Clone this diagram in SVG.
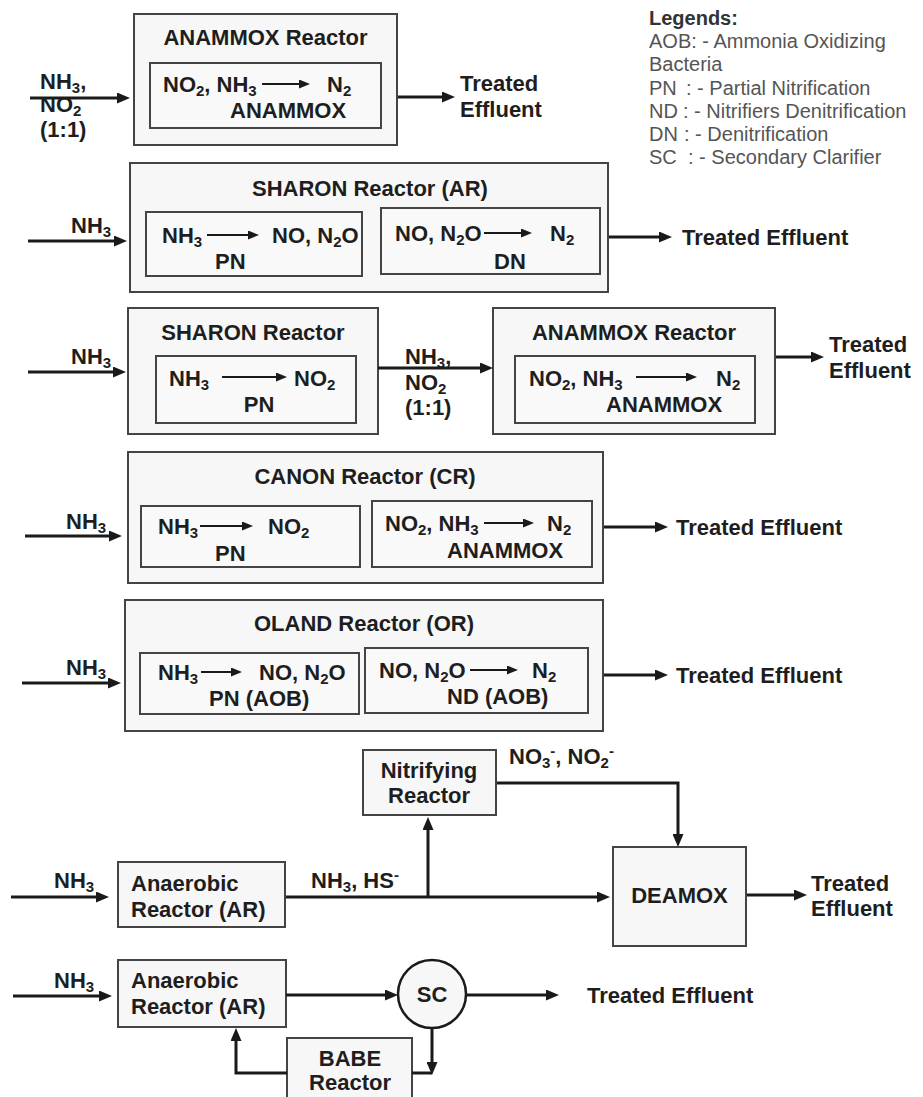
<svg xmlns="http://www.w3.org/2000/svg" width="923" height="1097" viewBox="0 0 923 1097">
<defs>
<style>
.t{font-family:"Liberation Sans",Arial,sans-serif;font-weight:bold;font-size:22px;fill:#1e1e1e}
.s{font-size:15px}
.m{text-anchor:middle}
.lg{font-family:"Liberation Sans",Arial,sans-serif;font-size:20px;fill:#555}
.lgh{font-weight:bold;fill:#333}
.ob{fill:#f7f7f7;stroke:#444;stroke-width:2}
.ib{fill:#f9f9f9;stroke:#444;stroke-width:2}
.c{fill:none;stroke:#1a1a1a;stroke-width:3}
.ia{fill:none;stroke:#1a1a1a;stroke-width:2.2}
</style>
<marker id="ah" markerWidth="13" markerHeight="11" refX="5" refY="5.5" orient="auto" markerUnits="userSpaceOnUse"><path d="M0,0 L13,5.5 L0,11 z" fill="#1a1a1a"/></marker>
<marker id="sa" markerWidth="11" markerHeight="9" refX="4" refY="4.5" orient="auto" markerUnits="userSpaceOnUse"><path d="M0,0 L11,4.5 L0,9 z" fill="#1a1a1a"/></marker>
</defs>
<rect width="923" height="1097" fill="#ffffff"/>

<g id="legend" class="lg">
<text x="649" y="25" class="lgh">Legends:</text>
<text x="649" y="48">AOB: - Ammonia Oxidizing</text>
<text x="649" y="71">Bacteria</text>
<text y="95"><tspan x="649">PN</tspan><tspan x="686">: - Partial Nitrification</tspan></text>
<text y="118"><tspan x="649">ND</tspan><tspan x="683">: - Nitrifiers Denitrification</tspan></text>
<text y="141"><tspan x="649">DN</tspan><tspan x="684">: - Denitrification</tspan></text>
<text y="164"><tspan x="649">SC</tspan><tspan x="688">: - Secondary Clarifier</tspan></text>
</g>

<!-- Row 1 -->
<g id="anammox1">
<rect class="ob" x="134" y="14" width="263" height="131"/>
<text class="t m" x="265.5" y="45">ANAMMOX Reactor</text>
<rect class="ib" x="150" y="63" width="231" height="65"/>
<text class="t" x="163" y="92">NO<tspan class="s" dy="4">2</tspan><tspan dy="-4">, NH</tspan><tspan class="s" dy="4">3</tspan></text>
<path class="ia" d="M262,84 H303" marker-end="url(#sa)"/>
<text class="t" x="327" y="92">N<tspan class="s" dy="4">2</tspan></text>
<text class="t" x="230" y="118">ANAMMOX</text>
</g>

<!-- Row 2 -->
<g id="sharon-ar">
<rect class="ob" x="130" y="163" width="478" height="129"/>
<text class="t m" x="370" y="196">SHARON Reactor (AR)</text>
<rect class="ib" x="146" y="212" width="216" height="64"/>
<text class="t" x="162" y="243">NH<tspan class="s" dy="4">3</tspan></text>
<path class="ia" d="M207,235 H252" marker-end="url(#sa)"/>
<text class="t" x="272" y="243">NO, N<tspan class="s" dy="4">2</tspan><tspan dy="-4">O</tspan></text>
<text class="t" x="215" y="269">PN</text>
<rect class="ib" x="381" y="208" width="219" height="66"/>
<text class="t" x="395" y="241">NO, N<tspan class="s" dy="4">2</tspan><tspan dy="-4">O</tspan></text>
<path class="ia" d="M484,233 H525" marker-end="url(#sa)"/>
<text class="t" x="550" y="241">N<tspan class="s" dy="4">2</tspan></text>
<text class="t" x="494" y="269">DN</text>
</g>

<!-- Row 3 -->
<g id="sharon">
<rect class="ob" x="128" y="308" width="250" height="126"/>
<text class="t m" x="253" y="340">SHARON Reactor</text>
<rect class="ib" x="156" y="356" width="200" height="67"/>
<text class="t" x="169" y="386">NH<tspan class="s" dy="4">3</tspan></text>
<path class="ia" d="M222,377 H280" marker-end="url(#sa)"/>
<text class="t" x="294" y="386">NO<tspan class="s" dy="4">2</tspan></text>
<text class="t m" x="259" y="412">PN</text>
</g>
<g id="anammox2">
<rect class="ob" x="493" y="308" width="282" height="126"/>
<text class="t m" x="634" y="340">ANAMMOX Reactor</text>
<rect class="ib" x="515" y="356" width="240" height="67"/>
<text class="t" x="529" y="386">NO<tspan class="s" dy="4">2</tspan><tspan dy="-4">, NH</tspan><tspan class="s" dy="4">3</tspan></text>
<path class="ia" d="M636,377 H690" marker-end="url(#sa)"/>
<text class="t" x="716" y="386">N<tspan class="s" dy="4">2</tspan></text>
<text class="t" x="606" y="412">ANAMMOX</text>
</g>

<!-- Row 4 -->
<g id="canon">
<rect class="ob" x="128" y="452" width="475" height="131"/>
<text class="t m" x="365" y="484">CANON Reactor (CR)</text>
<rect class="ib" x="141" y="506" width="219" height="61"/>
<text class="t" x="158" y="534">NH<tspan class="s" dy="4">3</tspan></text>
<path class="ia" d="M200,526 H246" marker-end="url(#sa)"/>
<text class="t" x="268" y="534">NO<tspan class="s" dy="4">2</tspan></text>
<text class="t" x="215" y="561">PN</text>
<rect class="ib" x="372" y="501" width="220" height="66"/>
<text class="t" x="385" y="531">NO<tspan class="s" dy="4">2</tspan><tspan dy="-4">, NH</tspan><tspan class="s" dy="4">3</tspan></text>
<path class="ia" d="M484,523 H527" marker-end="url(#sa)"/>
<text class="t" x="547" y="531">N<tspan class="s" dy="4">2</tspan></text>
<text class="t" x="447" y="558">ANAMMOX</text>
</g>

<!-- Row 5 -->
<g id="oland">
<rect class="ob" x="125" y="600" width="478" height="131"/>
<text class="t m" x="364" y="631">OLAND Reactor (OR)</text>
<rect class="ib" x="140" y="653" width="219" height="61"/>
<text class="t" x="158" y="680">NH<tspan class="s" dy="4">3</tspan></text>
<path class="ia" d="M201,672 H235" marker-end="url(#sa)"/>
<text class="t" x="259" y="680">NO, N<tspan class="s" dy="4">2</tspan><tspan dy="-4">O</tspan></text>
<text class="t" x="209" y="706">PN (AOB)</text>
<rect class="ib" x="365" y="648" width="223" height="65"/>
<text class="t" x="379" y="678">NO, N<tspan class="s" dy="4">2</tspan><tspan dy="-4">O</tspan></text>
<path class="ia" d="M470,670 H511" marker-end="url(#sa)"/>
<text class="t" x="532" y="678">N<tspan class="s" dy="4">2</tspan></text>
<text class="t" x="447" y="704">ND (AOB)</text>
</g>

<!-- Row 6 -->
<g id="nitrifying">
<rect class="ob" x="363" y="750" width="133" height="65"/>
<text class="t m" x="429" y="778">Nitrifying</text>
<text class="t m" x="429" y="803">Reactor</text>
</g>
<g id="anaerobic1">
<rect class="ob" x="118" y="862" width="167" height="65"/>
<text class="t" x="131" y="891">Anaerobic</text>
<text class="t" x="131" y="917">Reactor (AR)</text>
</g>
<g id="deamox">
<rect class="ob" x="613" y="847" width="133" height="99"/>
<text class="t m" x="679.5" y="903">DEAMOX</text>
</g>

<!-- Row 7 -->
<g id="anaerobic2">
<rect class="ob" x="118" y="960" width="168" height="67"/>
<text class="t" x="131" y="988">Anaerobic</text>
<text class="t" x="131" y="1014">Reactor (AR)</text>
</g>
<g id="sc">
<circle cx="432" cy="994" r="34" fill="#f7f7f7" stroke="#1a1a1a" stroke-width="2.5"/>
<text class="t m" x="432" y="1002">SC</text>
</g>
<g id="babe">
<rect class="ob" x="287" y="1038" width="125" height="70"/>
<text class="t m" x="350" y="1066">BABE</text>
<text class="t m" x="350" y="1090">Reactor</text>
</g>

<g id="connectors">
<path class="c" d="M30,98 H122" marker-end="url(#ah)"/>
<path class="c" d="M398,97 H447" marker-end="url(#ah)"/>
<path class="c" d="M28,241 H119" marker-end="url(#ah)"/>
<path class="c" d="M609,237 H664" marker-end="url(#ah)"/>
<path class="c" d="M28,372 H118" marker-end="url(#ah)"/>
<path class="c" d="M378,368 H485" marker-end="url(#ah)"/>
<path class="c" d="M776,357 H816" marker-end="url(#ah)"/>
<path class="c" d="M25,536 H114" marker-end="url(#ah)"/>
<path class="c" d="M604,527 H660" marker-end="url(#ah)"/>
<path class="c" d="M22,683 H113" marker-end="url(#ah)"/>
<path class="c" d="M604,675 H660" marker-end="url(#ah)"/>
<path class="c" d="M11,897 H101" marker-end="url(#ah)"/>
<path class="c" d="M286,897 H602" marker-end="url(#ah)"/>
<path class="c" d="M428,897 V825" marker-end="url(#ah)"/>
<path class="c" d="M497,783 H678 V839" marker-end="url(#ah)"/>
<path class="c" d="M747,895 H799" marker-end="url(#ah)"/>
<path class="c" d="M13,996 H104" marker-end="url(#ah)"/>
<path class="c" d="M286,995 H390" marker-end="url(#ah)"/>
<path class="c" d="M466,995 H551" marker-end="url(#ah)"/>
<path class="c" d="M432,1028 V1067" marker-end="url(#ah)"/>
<path class="c" d="M412,1073 H432"/>
<path class="c" d="M287,1073 H236 V1036" marker-end="url(#ah)"/>
</g>

<g id="labels">
<text class="t" x="40" y="89">NH<tspan class="s" dy="4">3</tspan><tspan dy="-4">,</tspan></text>
<text class="t" x="40" y="112">NO<tspan class="s" dy="4">2</tspan></text>
<text class="t" x="40" y="137">(1:1)</text>
<text class="t" x="460" y="91">Treated</text>
<text class="t" x="460" y="117">Effluent</text>
<text class="t" x="71" y="233">NH<tspan class="s" dy="4">3</tspan></text>
<text class="t" x="682" y="245">Treated Effluent</text>
<text class="t" x="71" y="364">NH<tspan class="s" dy="4">3</tspan></text>
<text class="t" x="405" y="364">NH<tspan class="s" dy="4">3</tspan><tspan dy="-4">,</tspan></text>
<text class="t" x="405" y="390">NO<tspan class="s" dy="4">2</tspan></text>
<text class="t" x="405" y="415">(1:1)</text>
<text class="t" x="829" y="352">Treated</text>
<text class="t" x="829" y="378">Effluent</text>
<text class="t" x="66" y="529">NH<tspan class="s" dy="4">3</tspan></text>
<text class="t" x="676" y="535">Treated Effluent</text>
<text class="t" x="66" y="675">NH<tspan class="s" dy="4">3</tspan></text>
<text class="t" x="676" y="683">Treated Effluent</text>
<text class="t" x="509" y="764">NO<tspan class="s" dy="4">3</tspan><tspan class="s" dy="-12">-</tspan><tspan dy="8">, NO</tspan><tspan class="s" dy="4">2</tspan><tspan class="s" dy="-12">-</tspan></text>
<text class="t" x="54" y="888">NH<tspan class="s" dy="4">3</tspan></text>
<text class="t" x="311" y="888">NH<tspan class="s" dy="4">3</tspan><tspan dy="-4">, HS</tspan><tspan class="s" dy="-8">-</tspan></text>
<text class="t" x="811" y="891">Treated</text>
<text class="t" x="811" y="916">Effluent</text>
<text class="t" x="54" y="988">NH<tspan class="s" dy="4">3</tspan></text>
<text class="t" x="587" y="1003">Treated Effluent</text>
</g>
</svg>
